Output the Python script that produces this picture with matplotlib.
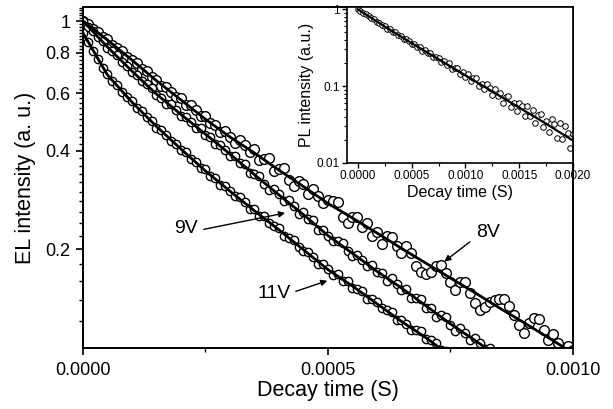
import numpy as np
import matplotlib
matplotlib.use("Agg")
import matplotlib.pyplot as plt
from matplotlib.ticker import FixedLocator, FixedFormatter, NullFormatter, LogLocator

plt.rcParams['font.family'] = ['Liberation Sans', 'DejaVu Sans']

# ---------------- data (main panel: EL decay) ----------------
t_step = 1e-5
el_8v = [1.000, 0.978, 0.945, 0.926, 0.896, 0.879, 0.847, 0.828, 0.807, 0.777,
         0.761, 0.743, 0.712, 0.702, 0.672, 0.661, 0.632, 0.628, 0.607, 0.583,
         0.579, 0.551, 0.551, 0.532, 0.510, 0.510, 0.486, 0.481, 0.457, 0.461,
         0.441, 0.422, 0.432, 0.416, 0.397, 0.406, 0.375, 0.378, 0.380, 0.347,
         0.352, 0.355, 0.326, 0.312, 0.323, 0.317, 0.295, 0.306, 0.291, 0.276,
         0.282, 0.281, 0.278, 0.251, 0.241, 0.251, 0.250, 0.233, 0.240, 0.220,
         0.226, 0.208, 0.219, 0.218, 0.204, 0.195, 0.204, 0.195, 0.178, 0.170,
         0.168, 0.170, 0.177, 0.179, 0.169, 0.158, 0.150, 0.159, 0.159, 0.147,
         0.137, 0.130, 0.133, 0.138, 0.140, 0.141, 0.141, 0.134, 0.126, 0.117,
         0.111, 0.119, 0.123, 0.122, 0.113, 0.105, 0.110, 0.103, 0.096, 0.101,
         0.098]
el_9v = [1.000, 0.960, 0.934, 0.892, 0.868, 0.828, 0.807, 0.784, 0.747, 0.729,
         0.699, 0.685, 0.653, 0.640, 0.623, 0.593, 0.582, 0.558, 0.555, 0.532,
         0.512, 0.508, 0.491, 0.470, 0.470, 0.448, 0.440, 0.419, 0.417, 0.403,
         0.387, 0.386, 0.366, 0.364, 0.343, 0.340, 0.335, 0.316, 0.304, 0.305,
         0.295, 0.281, 0.283, 0.271, 0.257, 0.259, 0.247, 0.245, 0.229, 0.229,
         0.220, 0.211, 0.212, 0.209, 0.197, 0.190, 0.192, 0.185, 0.177, 0.179,
         0.170, 0.169, 0.160, 0.163, 0.156, 0.150, 0.151, 0.142, 0.142, 0.141,
         0.132, 0.132, 0.124, 0.126, 0.124, 0.117, 0.112, 0.115, 0.111, 0.105,
         0.107, 0.103, 0.0985, 0.0997, 0.0953, 0.0921]
el_11v = [0.919, 0.864, 0.807, 0.767, 0.718, 0.686, 0.655, 0.637, 0.607, 0.587,
          0.567, 0.542, 0.531, 0.507, 0.494, 0.471, 0.464, 0.447, 0.429, 0.421,
          0.403, 0.397, 0.378, 0.370, 0.354, 0.351, 0.336, 0.331, 0.315, 0.313,
          0.302, 0.290, 0.289, 0.278, 0.266, 0.265, 0.253, 0.252, 0.240, 0.236,
          0.232, 0.220, 0.217, 0.213, 0.203, 0.197, 0.196, 0.189, 0.180, 0.180,
          0.174, 0.167, 0.168, 0.160, 0.160, 0.152, 0.151, 0.149, 0.141, 0.141,
          0.138, 0.132, 0.130, 0.128, 0.121, 0.121, 0.118, 0.113, 0.113, 0.112,
          0.106, 0.105, 0.103, 0.0982, 0.0975, 0.094]

fit_step = 5e-5
fit_8v = [1.0, 0.874, 0.759, 0.656, 0.573, 0.500, 0.441, 0.394, 0.349, 0.311,
          0.276, 0.249, 0.224, 0.201, 0.181, 0.163, 0.147, 0.132, 0.119, 0.107, 0.096]
fit_9v = [1.0, 0.832, 0.702, 0.597, 0.517, 0.450, 0.391, 0.338, 0.293, 0.255,
          0.220, 0.194, 0.171, 0.152, 0.134, 0.118, 0.105, 0.093]
fit_11v = [0.919, 0.683, 0.564, 0.475, 0.405, 0.347, 0.301, 0.262, 0.229, 0.199,
           0.173, 0.154, 0.136, 0.120, 0.107, 0.094]

# ---------------- data (inset: PL decay) ----------------
pl_step = 2.5e-5
pl = [1.000, 0.958, 0.895, 0.866, 0.805, 0.777, 0.743, 0.688, 0.667, 0.623,
      0.603, 0.559, 0.550, 0.509, 0.500, 0.457, 0.449, 0.411, 0.412, 0.382,
      0.356, 0.358, 0.322, 0.323, 0.289, 0.299, 0.269, 0.268, 0.237, 0.240,
      0.234, 0.204, 0.215, 0.189, 0.198, 0.166, 0.173, 0.173, 0.142, 0.152,
      0.133, 0.144, 0.117, 0.126, 0.126, 0.0989, 0.106, 0.0908, 0.105, 0.0935,
      0.0767, 0.0920, 0.0738, 0.0807, 0.0611, 0.0716, 0.0740, 0.0541, 0.0605, 0.0469,
      0.0603, 0.0548, 0.0410, 0.0546, 0.0404, 0.0484, 0.0327, 0.0420, 0.0439, 0.0296,
      0.0347, 0.0250, 0.0368, 0.0319, 0.0210, 0.0331, 0.0203, 0.0306, 0.0242, 0.0159,
      0.0240]
pl_fit_step = 2.5e-4
pl_fit = [1.0, 0.596, 0.363, 0.224, 0.138, 0.0851, 0.0525, 0.0324, 0.0195]

# labels
main_xticks = [0.0, 0.0005, 0.0010]
main_xticklabels = ["0.0000", "0.0005", "0.0010"]
main_yticks = [0.2, 0.4, 0.6, 0.8, 1.0]
main_yticklabels = ["0.2", "0.4", "0.6", "0.8", "1"]
inset_xticks = [0.0, 0.0005, 0.0010, 0.0015, 0.0020]
inset_xticklabels = ["0.0000", "0.0005", "0.0010", "0.0015", "0.0020"]
inset_yticks = [0.01, 0.1, 1.0]
inset_yticklabels = ["0.01", "0.1", "1"]

# ---------------- figure ----------------
fig = plt.figure(figsize=(6.13, 4.09), dpi=100)
ax = fig.add_axes([0.1354, 0.1491, 0.7993, 0.8338])

mk = dict(linestyle='none', marker='o', mfc='white', mec='black', mew=1.0)
for vals, ms in ((el_8v, 7.0), (el_9v, 6.0), (el_11v, 6.0)):
    t = np.arange(len(vals)) * t_step
    ax.plot(t, vals, ms=ms, **mk)
for vals in (fit_8v, fit_9v, fit_11v):
    t = np.arange(len(vals)) * fit_step
    ax.plot(t, vals, color='black', lw=2.0)

ax.set_yscale('log')
ax.set_xlim(0, 0.001)
ax.set_ylim(0.0995, 1.104)
ax.xaxis.set_major_locator(FixedLocator(main_xticks))
ax.xaxis.set_major_formatter(FixedFormatter(main_xticklabels))
ax.xaxis.set_minor_locator(FixedLocator([0.00025, 0.00075]))
ax.yaxis.set_major_locator(FixedLocator(main_yticks))
ax.yaxis.set_major_formatter(FixedFormatter(main_yticklabels))
minor_y = [v for v in np.round(np.arange(0.12, 1.10, 0.02), 2) if v not in main_yticks]
ax.yaxis.set_minor_locator(FixedLocator(minor_y))
ax.yaxis.set_minor_formatter(NullFormatter())
ax.tick_params(which='major', direction='out', length=5, width=1.2, labelsize=13, pad=4)
ax.tick_params(which='minor', direction='out', length=3, width=1.0)
ax.tick_params(axis='x', pad=5)
for s in ax.spines.values():
    s.set_linewidth(1.4)
ax.set_xlabel("Decay time (S)", fontsize=15.5, labelpad=1)
ax.set_ylabel("EL intensity (a. u.)", fontsize=15.5, labelpad=7)

# annotations
ax.text(0.000827, 0.225, "8V", fontsize=14, ha='center', va='center')
ax.annotate('', xy=(0.000733, 0.181), xytext=(0.000794, 0.213),
            arrowprops=dict(arrowstyle='-|>', lw=1.0, color='black', mutation_scale=9))
ax.text(0.000210, 0.232, "9V", fontsize=14, ha='center', va='center')
ax.annotate('', xy=(0.000418, 0.259), xytext=(0.000241, 0.229),
            arrowprops=dict(arrowstyle='-|>', lw=1.0, color='black', mutation_scale=9))
ax.text(0.000390, 0.1465, "11V", fontsize=14, ha='center', va='center')
ax.annotate('', xy=(0.000504, 0.161), xytext=(0.000429, 0.1475),
            arrowprops=dict(arrowstyle='-|>', lw=1.0, color='black', mutation_scale=9))

# ---------------- inset ----------------
ins = fig.add_axes([0.5661, 0.6015, 0.3687, 0.3814])
t = np.arange(len(pl)) * pl_step
ins.plot(t, pl, linestyle='none', marker='o', ms=4.0, mfc='white', mec='black', mew=0.7)
tf = np.arange(len(pl_fit)) * pl_fit_step
ins.plot(tf, pl_fit, color='black', lw=1.6)
ins.set_yscale('log')
ins.set_xlim(-0.0001, 0.002)
ins.set_ylim(0.01, 1.07)
ins.xaxis.set_major_locator(FixedLocator(inset_xticks))
ins.xaxis.set_major_formatter(FixedFormatter(inset_xticklabels))
ins.xaxis.set_minor_locator(FixedLocator([0.00025, 0.00075, 0.00125, 0.00175]))
ins.yaxis.set_major_locator(FixedLocator(inset_yticks))
ins.yaxis.set_major_formatter(FixedFormatter(inset_yticklabels))
ins.yaxis.set_minor_locator(LogLocator(base=10, subs=np.arange(2, 10)))
ins.yaxis.set_minor_formatter(NullFormatter())
ins.tick_params(which='major', direction='out', length=3.5, width=1.0, labelsize=8.5, pad=1.5)
ins.tick_params(which='minor', direction='out', length=2, width=0.8)
for s in ins.spines.values():
    s.set_linewidth(1.2)
ins.set_xlabel("Decay time (S)", fontsize=11.5, labelpad=2)
ins.set_ylabel("PL intensity (a.u.)", fontsize=11.5, labelpad=2)

fig.savefig("out.png", dpi=100)
